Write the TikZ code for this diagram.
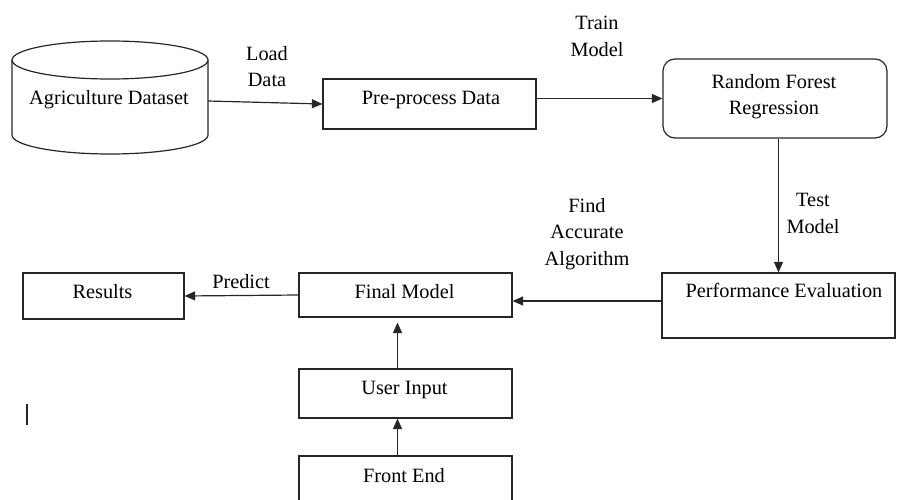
\documentclass[tikz,border=0pt]{standalone}
\usepackage{fontspec}
\setmainfont{Liberation Serif}
\usetikzlibrary{arrows.meta,calc}
\tikzset{
  lbl/.style={inner sep=0pt, font=\fontsize{20.3}{26.5}\selectfont},
  mlbl/.style={lbl, align=center},
  box/.style={draw=black!85, line width=1.2pt, inner sep=0pt},
  arr/.style={draw=black!85, line width=1.2pt, -{Triangle[length=10.5pt,width=9pt]}},
}
\begin{document}
\begin{tikzpicture}[x=1pt,y=-1pt]
\useasboundingbox (0,0) rectangle (897,500);
% cylinder
\draw[black!85, line width=1.2pt] (12,60) -- (12,135) arc[start angle=180, end angle=360, x radius=98pt, y radius=19pt] -- (208,60);
\draw[black!85, line width=1.2pt] (110,60) ellipse[x radius=98pt, y radius=19pt];
\node[lbl, anchor=base] (ds) at (109,105) {Agriculture Dataset};
\coordinate (dsE) at (208,101);
% boxes
\node[box, minimum width=213pt, minimum height=50pt] (pre) at (429.5,104) {};
\node[lbl, anchor=base] (preT) at (431,105) {Pre-process Data};
\node[box, rounded corners=12pt, minimum width=224pt, minimum height=79pt] (rf) at (775,98.5) {};
\node[mlbl] (rfT) at (774,96.7) {Random Forest\\Regression};
\node[box, minimum width=233pt, minimum height=65pt] (perf) at (778.5,305.5) {};
\node[lbl, anchor=base] (perfT) at (784,297) {Performance Evaluation};
\node[box, minimum width=213pt, minimum height=44pt] (fm) at (405.5,295) {};
\node[lbl, anchor=base] (fmT) at (404.5,298) {Final Model};
\node[box, minimum width=161pt, minimum height=46pt] (res) at (103.5,296) {};
\node[lbl, anchor=base] (resT) at (102.5,298) {Results};
\node[box, minimum width=213pt, minimum height=49pt] (ui) at (405.5,393.5) {};
\node[lbl, anchor=base] (uiT) at (404.5,394) {User Input};
\node[box, minimum width=213pt, minimum height=54pt] (fe) at (405.5,483) {};
\node[lbl, anchor=base] (feT) at (404,482) {Front End};
% labels
\node[mlbl] (l1) at (267,66.5) {Load\\Data};
\node[mlbl] (l2) at (597,36.5) {Train\\Model};
\node[mlbl] (l3) at (813,213.5) {Test\\Model};
\node[mlbl] (l4) at (587,233.9) {Find\\Accurate\\Algorithm};
\node[lbl, anchor=base] (l5) at (241,288) {Predict};
% connectors
\draw[arr] (dsE) -- (pre.west);
\draw[arr] (pre.east |- rf.west) -- (rf.west);
\draw[arr] (rf.south -| perf.north) -- (perf.north);
\draw[arr] ($(perf.west)+(0,-4.5)$) -- ($(fm.east)+(0,6)$);
\draw[arr] (fm.west) -- (res.east);
\draw[arr, shorten >=5pt] ($(ui.north)+(-8,0)$) -- ($(fm.south)+(-8,0)$);
\draw[arr] ($(fe.north)+(-8,0)$) -- ($(ui.south)+(-8,0)$);
% stray mark
\draw[black!85, line width=1.2pt] (27,404) -- (27,425);
\end{tikzpicture}
\end{document}
